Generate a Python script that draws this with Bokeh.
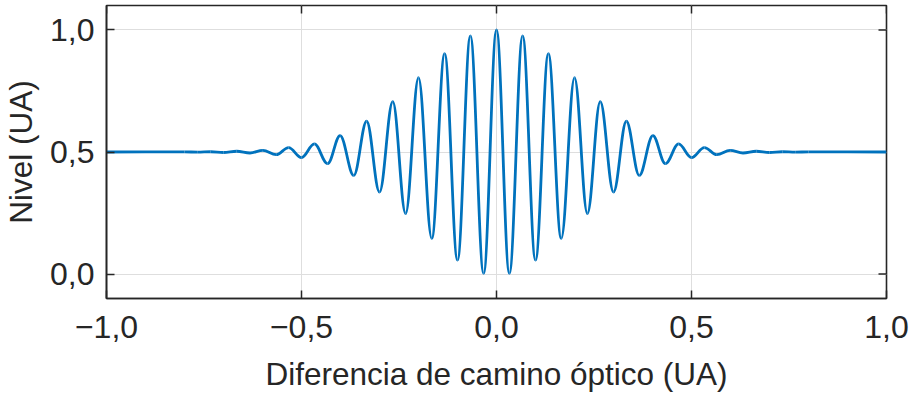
import numpy as np
from bokeh.plotting import figure
from bokeh.models import ColumnDataSource, Range1d, FixedTicker, LinearAxis
from bokeh.embed import file_html
from bokeh.resources import INLINE

# Extrema of the interferogram (x in UA, level in UA)
EXTREMA_X = [-1.0, -0.800, -0.766, -0.733, -0.700, -0.666, -0.632, -0.599, -0.565,
             -0.533, -0.500, -0.467, -0.433, -0.401, -0.366, -0.333, -0.300, -0.266,
             -0.233, -0.200, -0.166, -0.133, -0.100, -0.067, -0.033, 0.0,
             0.033, 0.067, 0.100, 0.133, 0.166, 0.200, 0.233, 0.266, 0.300, 0.333,
             0.366, 0.401, 0.433, 0.467, 0.500, 0.533, 0.565, 0.599, 0.632, 0.666,
             0.700, 0.733, 0.766, 0.800, 1.0]
EXTREMA_Y = [0.500, 0.5005, 0.4995, 0.501, 0.498, 0.503, 0.496, 0.507, 0.489,
             0.518, 0.477, 0.533, 0.452, 0.567, 0.404, 0.626, 0.336, 0.706,
             0.248, 0.804, 0.146, 0.903, 0.057, 0.976, 0.003, 1.000,
             0.003, 0.976, 0.057, 0.903, 0.146, 0.804, 0.248, 0.706, 0.336, 0.626,
             0.404, 0.567, 0.452, 0.533, 0.477, 0.518, 0.489, 0.507, 0.496, 0.503,
             0.498, 0.501, 0.4995, 0.5005, 0.500]

X_TICKS = [-1.0, -0.5, 0.0, 0.5, 1.0]
X_TICK_LABELS = ["\u22121,0", "\u22120,5", "0,0", "0,5", "1,0"]
Y_TICKS = [0.0, 0.5, 1.0]
Y_TICK_LABELS = ["0,0", "0,5", "1,0"]
X_LABEL = "Diferencia de camino óptico (UA)"
Y_LABEL = "Nivel (UA)"

X_MIN, X_MAX = -1.0, 1.0
Y_MIN, Y_MAX = -0.1, 1.1

FONT = "Liberation Sans"
TXT = "#262626"
BLUE = "#0072BD"
AX = "#262626"

W, H = 909, 399
BL, BR, BT, BB = 106, 23, 5, 101
FRAME_W = W - BL - BR
FRAME_H = H - BT - BB
TICK_PX = 8

xs = np.array(EXTREMA_X)
ys = np.array(EXTREMA_Y)
c = 1.0 - 2.0 / np.pi  # horizontal-tangent cubic control offset
dx = xs[1:] - xs[:-1]
src = ColumnDataSource(dict(
    x0=xs[:-1], y0=ys[:-1], x1=xs[1:], y1=ys[1:],
    cx0=xs[:-1] + c * dx, cy0=ys[:-1],
    cx1=xs[1:] - c * dx, cy1=ys[1:],
))

p = figure(width=W, height=H, output_backend="svg", toolbar_location=None,
           x_range=Range1d(X_MIN, X_MAX), y_range=Range1d(Y_MIN, Y_MAX),
           x_axis_location=None, y_axis_location=None,
           min_border_left=BL, min_border_right=BR, min_border_top=BT,
           min_border_bottom=BB)
p.background_fill_color = "white"
p.border_fill_color = "white"
p.outline_line_color = AX
p.outline_line_width = 1.6

def style_axis(ax, ticks, labels):
    ax.ticker = FixedTicker(ticks=ticks)
    ax.major_label_overrides = {t: l for t, l in zip(ticks, labels)}
    ax.axis_line_color = AX
    ax.axis_line_width = 1.6
    ax.major_tick_line_color = AX
    ax.major_tick_line_width = 1.5
    ax.major_tick_in = TICK_PX
    ax.major_tick_out = 0
    ax.minor_tick_line_color = None
    ax.major_label_text_font = FONT
    ax.major_label_text_color = TXT
    ax.major_label_text_font_size = "32px"
    ax.axis_label_text_font = FONT
    ax.axis_label_text_font_size = "31.5px"
    ax.axis_label_text_font_style = "normal"
    ax.axis_label_text_color = TXT

xb = LinearAxis(axis_label=X_LABEL)
style_axis(xb, X_TICKS, X_TICK_LABELS)
xb.major_label_standoff = 17
xb.axis_label_standoff = 15
p.add_layout(xb, "below")

yl = LinearAxis(axis_label=Y_LABEL)
style_axis(yl, Y_TICKS, Y_TICK_LABELS)
yl.major_label_standoff = 12
yl.axis_label_standoff = 8
p.add_layout(yl, "left")

p.xgrid.ticker = FixedTicker(ticks=X_TICKS)
p.ygrid.ticker = FixedTicker(ticks=Y_TICKS)
p.grid.grid_line_color = "#dedede"
p.grid.grid_line_width = 1

# inward ticks on the top and right edges of the box
tx = np.array(X_TICKS)
ty = np.array(Y_TICKS)
dy_tick = TICK_PX * (Y_MAX - Y_MIN) / FRAME_H
dx_tick = TICK_PX * (X_MAX - X_MIN) / FRAME_W
p.segment(x0=tx, y0=np.full_like(tx, Y_MAX), x1=tx, y1=np.full_like(tx, Y_MAX - dy_tick),
          line_color=AX, line_width=1.5)
p.segment(x0=np.full_like(ty, X_MAX), y0=ty, x1=np.full_like(ty, X_MAX - dx_tick), y1=ty,
          line_color=AX, line_width=1.5)

p.bezier(x0="x0", y0="y0", x1="x1", y1="y1", cx0="cx0", cy0="cy0",
         cx1="cx1", cy1="cy1", source=src, line_color=BLUE, line_width=2.8)

open("out.html", "w").write(file_html(p, INLINE))
